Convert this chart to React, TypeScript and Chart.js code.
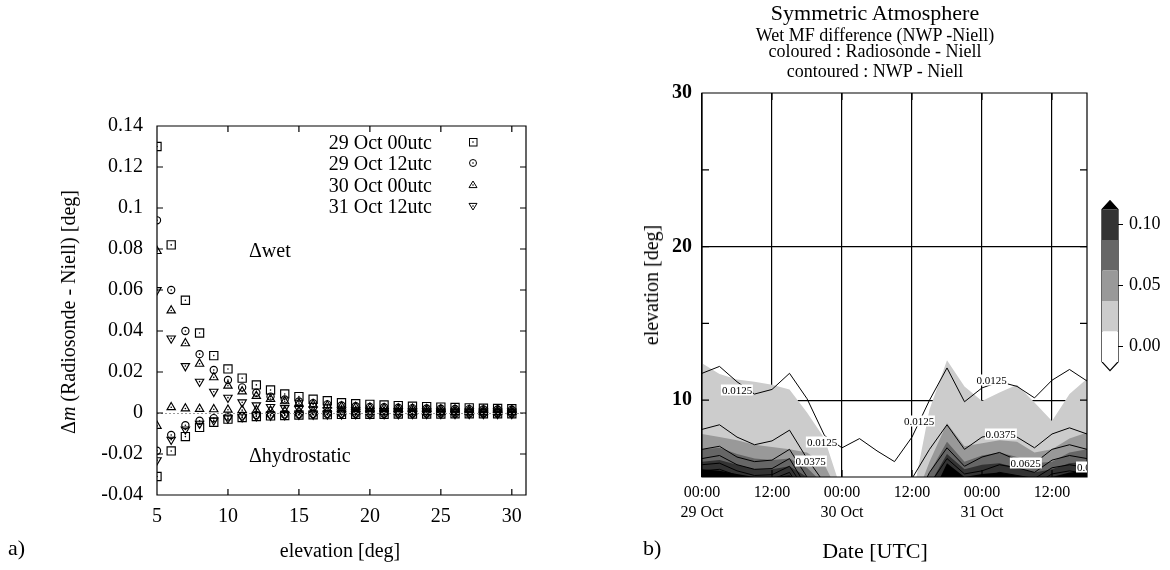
import React, { useEffect, useRef } from "react";
import { Chart, registerables } from "chart.js";
Chart.register(...registerables);

const SERIF = "'Liberation Serif', 'Times New Roman', serif";

// ---------------- Left chart (a) data ----------------
const elevations = [5, 6, 7, 8, 9, 10, 11, 12, 13, 14, 15, 16, 17, 18, 19, 20, 21, 22, 23, 24, 25, 26, 27, 28, 29, 30];
const seriesNames = ["29 Oct 00utc", "29 Oct 12utc", "30 Oct 00utc", "31 Oct 12utc"];
const wet29Oct00 = [0.130, 0.082, 0.055, 0.039, 0.028, 0.0215, 0.017, 0.0137, 0.0112, 0.0093, 0.008, 0.0067, 0.006, 0.005, 0.0045, 0.0042, 0.0039, 0.0036, 0.0033, 0.0031, 0.0029, 0.0027, 0.0025, 0.0023, 0.0022, 0.0021];
const wet29Oct12 = [0.094, 0.060, 0.040, 0.0287, 0.021, 0.0161, 0.0125, 0.0099, 0.008, 0.0066, 0.0056, 0.0048, 0.0042, 0.0037, 0.0033, 0.003, 0.0028, 0.0026, 0.0024, 0.0022, 0.0021, 0.002, 0.0019, 0.0018, 0.0017, 0.0016];
const wet30Oct00 = [0.079, 0.050, 0.034, 0.024, 0.0174, 0.0133, 0.0105, 0.0083, 0.0068, 0.0057, 0.0048, 0.0041, 0.0036, 0.0032, 0.0029, 0.0026, 0.0024, 0.0022, 0.0021, 0.0019, 0.0018, 0.0017, 0.0016, 0.0015, 0.0015, 0.0014];
const wet31Oct12 = [0.060, 0.0364, 0.0229, 0.0153, 0.0104, 0.0075, 0.0052, 0.0038, 0.003, 0.0024, 0.002, 0.0017, 0.0015, 0.0013, 0.0012, 0.0011, 0.001, 0.001, 0.0009, 0.0009, 0.0008, 0.0008, 0.0008, 0.0007, 0.0007, 0.0007];
const hyd29Oct00 = [-0.031, -0.0185, -0.0115, -0.007, -0.0045, -0.003, -0.0022, -0.0017, -0.0014, -0.0012, -0.001, -0.0009, -0.0008, -0.0007, -0.0006, -0.0006, -0.0006, -0.0005, -0.0005, -0.0005, -0.0005, -0.0004, -0.0004, -0.0004, -0.0004, -0.0004];
const hyd29Oct12 = [-0.0184, -0.0107, -0.006, -0.0038, -0.0025, -0.0018, -0.0013, -0.001, -0.0008, -0.0007, -0.0006, -0.0005, -0.0005, -0.0004, -0.0004, -0.0004, -0.0004, -0.0003, -0.0003, -0.0003, -0.0003, -0.0003, -0.0003, -0.0003, -0.0003, -0.0003];
const hyd30Oct00 = [-0.0063, 0.0028, 0.0022, 0.002, 0.0018, 0.0016, 0.0014, 0.0012, 0.0011, 0.001, 0.0009, 0.0008, 0.0008, 0.0007, 0.0007, 0.0006, 0.0006, 0.0006, 0.0006, 0.0005, 0.0005, 0.0005, 0.0005, 0.0005, 0.0005, 0.0005];
const hyd31Oct12 = [-0.023, -0.013, -0.008, -0.0052, -0.0036, -0.0026, -0.002, -0.0015, -0.0012, -0.001, -0.0008, -0.0007, -0.0006, -0.0006, -0.0005, -0.0005, -0.0005, -0.0005, -0.0004, -0.0004, -0.0004, -0.0004, -0.0004, -0.0004, -0.0004, -0.0004];
const wetSeries = [wet29Oct00, wet29Oct12, wet30Oct00, wet31Oct12];
const hydSeries = [hyd29Oct00, hyd29Oct12, hyd30Oct00, hyd31Oct12];

// ---------------- Right chart (b) data ----------------
const hours = [0, 3, 6, 9, 12, 15, 18, 21, 24, 27, 30, 33, 36, 39, 42, 45, 48, 51, 54, 57, 60, 63, 66];
const timeTickLabels: (string | string[])[] = [["00:00", "29 Oct"], "12:00", ["00:00", "30 Oct"], "12:00", ["00:00", "31 Oct"], "12:00"];
// NWP - Niell contour lines: elevation [deg] of each level vs time
const nwp0125 = [11.75, 12.2, 11.2, 10.4, 10.7, 11.75, 10.1, 7.7, 6.9, 7.5, 6.7, 6.0, 7.6, 10.0, 12.1, 9.9, 10.8, 11.2, 10.9, 10.15, 11.3, 12.0, 11.25];
const nwp0375 = [8.1, 8.4, 7.6, 7.1, 7.35, 8.05, 6.2, 4.6, 3.5, 3.5, 3.5, 3.5, 4.9, 6.8, 8.4, 6.8, 7.6, 7.8, 7.6, 6.9, 7.8, 8.2, 7.8];
const nwp0625 = [6.8, 7.0, 6.3, 6.0, 6.1, 6.8, 5.0, 3.5, 3, 3, 3, 3, 3, 5.3, 6.9, 5.7, 6.3, 6.6, 6.1, 5.9, 6.8, 7.1, 6.8];
const nwp0875 = [6.2, 6.4, 5.8, 5.5, 5.55, 6.2, 4.3, 3, 3, 3, 3, 3, 3, 4.5, 6.2, 5.2, 5.4, 5.8, 5.6, 5.3, 6.1, 6.4, 6.2];
const nwp1125 = [5.8, 5.9, 5.4, 5.1, 5.15, 5.7, 4, 3, 3, 3, 3, 3, 3, 3.5, 5.6, 4.7, 4.9, 5.3, 5.1, 4.9, 5.6, 5.8, 5.6];
const nwp1375 = [5.4, 5.5, 5.1, 4.8, 4.85, 5.3, 3.5, 3, 3, 3, 3, 3, 3, 3, 5.3, 4.3, 4.5, 5.0, 4.8, 4.5, 5.2, 5.4, 5.2];
// Radiosonde - Niell filled bands: top elevation of the region >= level
const rs0125 = [12.4, 11.7, 11.35, 11.2, 11.0, 10.7, 9.2, 7.5, 4.0, 3, 3, 3, 3.5, 9.4, 12.6, 10.9, 9.95, 10.5, 11.0, 9.85, 8.65, 10.4, 11.4];
const rs0375 = [7.8, 7.6, 7.4, 7.1, 6.95, 6.8, 6.6, 5.8, 3.5, 3, 3, 3, 3, 6.0, 8.5, 7.0, 7.2, 7.4, 7.3, 6.6, 6.8, 7.5, 7.9];
const rs0625 = [6.8, 6.9, 6.5, 6.2, 6.1, 6.2, 5.6, 4.5, 3, 3, 3, 3, 3, 5.3, 7.3, 6.0, 6.4, 6.6, 6.3, 5.9, 6.0, 6.6, 6.8];
const rs0875 = [6.0, 6.1, 5.8, 5.5, 5.5, 5.7, 5.0, 3.5, 3, 3, 3, 3, 3, 4.5, 6.5, 5.5, 5.8, 5.9, 5.6, 5.3, 5.5, 5.9, 6.0];
const rs1125 = [5.5, 5.4, 5.2, 5.0, 5.0, 5.1, 4.5, 3, 3, 3, 3, 3, 3, 3.5, 5.9, 5.0, 5.2, 5.3, 5.1, 4.9, 5.0, 5.3, 5.4];

// Colour bar
const cbLevels = [-0.0125, 0.0125, 0.0375, 0.0625, 0.0875, 0.1125];
const cbColors = ["#ffffff", "#cccccc", "#999999", "#666666", "#333333"];
const cbTicks = [0, 0.05, 0.1];

// Contour labels (text)
const contourLabels = [
  { text: "0.0125", x: 737, y: 390 },
  { text: "0.0125", x: 822, y: 441.5 },
  { text: "0.0375", x: 810.5, y: 460.5 },
  { text: "0.0125", x: 919, y: 421 },
  { text: "0.0125", x: 991.5, y: 380 },
  { text: "0.0375", x: 1000.5, y: 433.5 },
  { text: "0.0625", x: 1025.5, y: 462.5 },
];

function framePlugin(tickLen: number, zeroLine: boolean) {
  return {
    id: "frameTicks",
    afterDraw(chart: any) {
      const { ctx, chartArea: a, scales } = chart;
      const xs = scales.x, ys = scales.y;
      ctx.save();
      if (zeroLine) {
        const p = Math.round(ys.getPixelForValue(0)) + 0.5;
        ctx.strokeStyle = "#9a9a9a";
        ctx.lineWidth = 1;
        ctx.setLineDash([2, 2]);
        ctx.beginPath();
        ctx.moveTo(a.left, p);
        ctx.lineTo(a.right, p);
        ctx.stroke();
        ctx.setLineDash([]);
      }
      ctx.strokeStyle = "#000";
      ctx.lineWidth = 1.2;
      ctx.beginPath();
      ctx.rect(a.left, a.top, a.right - a.left, a.bottom - a.top);
      xs.ticks.forEach((t: any) => {
        const p = xs.getPixelForValue(t.value);
        ctx.moveTo(p, a.bottom);
        ctx.lineTo(p, a.bottom - tickLen);
        ctx.moveTo(p, a.top);
        ctx.lineTo(p, a.top + tickLen);
      });
      ys.ticks.forEach((t: any) => {
        const p = ys.getPixelForValue(t.value);
        ctx.moveTo(a.left, p);
        ctx.lineTo(a.left + tickLen, p);
        ctx.moveTo(a.right, p);
        ctx.lineTo(a.right - tickLen, p);
      });
      ctx.stroke();
      ctx.restore();
    },
  };
}

function LeftChart() {
  const ref = useRef<HTMLCanvasElement>(null);
  useEffect(() => {
    const styles = [
      { pointStyle: "rect", radius: 5.8, rotation: 0 },
      { pointStyle: "circle", radius: 3.6, rotation: 0 },
      { pointStyle: "triangle", radius: 4.8, rotation: 0 },
      { pointStyle: "triangle", radius: 4.8, rotation: 180 },
    ];
    const datasets: any[] = [];
    seriesNames.forEach((name, s) => {
      const pts = [
        ...elevations.map((e, i) => ({ x: e, y: wetSeries[s][i] })),
        ...elevations.map((e, i) => ({ x: e, y: hydSeries[s][i] })),
      ];
      datasets.push({
        label: name,
        data: pts,
        showLine: false,
        pointStyle: styles[s].pointStyle,
        pointRadius: styles[s].radius,
        pointRotation: styles[s].rotation,
        pointBorderColor: "#000",
        pointBackgroundColor: "rgba(0,0,0,0)",
        pointBorderWidth: 1.15,
      });
      datasets.push({
        label: name + " centre",
        data: pts,
        showLine: false,
        pointStyle: "circle",
        pointRadius: 0.8,
        pointBorderWidth: 0,
        pointBackgroundColor: "#000",
      });
    });
    const chart = new Chart(ref.current!, {
      type: "scatter",
      data: { datasets },
      options: {
        animation: false,
        responsive: false,
        events: [],
        layout: { padding: { left: 0, top: 126, right: 34, bottom: 35 } },
        plugins: { legend: { display: false }, tooltip: { enabled: false } },
        scales: {
          x: {
            type: "linear",
            min: 5,
            max: 31,
            afterFit: (s: any) => { s.height = 40; },
            grid: { display: false, drawTicks: false },
            border: { display: false },
            ticks: { stepSize: 5, includeBounds: false, padding: 10, color: "#000", font: { family: SERIF, size: 20 } },
          },
          y: {
            type: "linear",
            min: -0.04,
            max: 0.14,
            afterFit: (s: any) => { s.width = 157; },
            grid: { display: false, drawTicks: false },
            border: { display: false },
            ticks: {
              stepSize: 0.02,
              padding: 14,
              color: "#000",
              font: { family: SERIF, size: 20 },
              callback: (v: any) => String(+Number(v).toFixed(2)),
            },
          },
        },
      },
      plugins: [framePlugin(6, true)],
    } as any);
    return () => chart.destroy();
  }, []);
  return <canvas ref={ref} width={560} height={570} style={{ position: "absolute", left: 0, top: 0, width: 560, height: 570 }} />;
}

function RightChart() {
  const ref = useRef<HTMLCanvasElement>(null);
  useEffect(() => {
    const pts = (arr: number[]) => hours.map((h, i) => ({ x: h, y: arr[i] }));
    const fills = [
      { data: rs1125, color: "#000000", order: 2 },
      { data: rs0875, color: "#333333", order: 3 },
      { data: rs0625, color: "#666666", order: 4 },
      { data: rs0375, color: "#999999", order: 5 },
      { data: rs0125, color: "#cccccc", order: 6 },
    ];
    const lines = [nwp0125, nwp0375, nwp0625, nwp0875, nwp1125, nwp1375];
    const datasets: any[] = [
      ...fills.map((f) => ({
        data: pts(f.data),
        borderWidth: 0,
        borderColor: "rgba(0,0,0,0)",
        backgroundColor: f.color,
        fill: "start",
        pointRadius: 0,
        tension: 0,
        order: f.order,
        clip: 0,
      })),
      ...lines.map((l) => ({
        data: pts(l),
        borderWidth: 1,
        borderColor: "#000",
        fill: false,
        pointRadius: 0,
        tension: 0,
        order: 0,
        clip: 0,
      })),
    ];
    const chart = new Chart(ref.current!, {
      type: "line",
      data: { datasets },
      options: {
        animation: false,
        responsive: false,
        events: [],
        layout: { padding: { left: 0, top: 93, right: 8, bottom: 43 } },
        plugins: { legend: { display: false }, tooltip: { enabled: false } },
        scales: {
          x: {
            type: "linear",
            min: 0,
            max: 66,
            z: 1,
            afterFit: (s: any) => { s.height = 50; },
            grid: { color: "#000", lineWidth: 1.2, drawTicks: false },
            border: { display: false },
            ticks: {
              stepSize: 12,
              includeBounds: false,
              autoSkip: false,
              maxRotation: 0,
              padding: 6,
              color: "#000",
              font: { family: SERIF, size: 16, lineHeight: 1.25 },
              callback: (v: any) => timeTickLabels[Math.round(Number(v) / 12)] ?? "",
            },
          },
          y: {
            type: "linear",
            min: 5,
            max: 30,
            z: 1,
            afterFit: (s: any) => { s.width = 142; },
            grid: {
              drawTicks: false,
              lineWidth: 1.2,
              color: (c: any) => (c.tick && (c.tick.value === 10 || c.tick.value === 20) ? "#000" : "rgba(0,0,0,0)"),
            },
            border: { display: false },
            ticks: {
              stepSize: 5,
              padding: 10,
              color: "#000",
              font: { family: SERIF, size: 20, weight: "bold" },
              callback: (v: any) => (Number(v) % 10 === 0 ? String(v) : ""),
            },
          },
        },
      },
      plugins: [framePlugin(7, false)],
    } as any);
    return () => chart.destroy();
  }, []);
  return <canvas ref={ref} width={535} height={570} style={{ position: "absolute", left: 560, top: 0, width: 535, height: 570 }} />;
}

function ColorBar() {
  const ref = useRef<HTMLCanvasElement>(null);
  useEffect(() => {
    const yMin = -0.0197, yMax = 0.1197;
    const datasets: any[] = cbLevels.map((lv, i) => ({
      data: [{ x: 0, y: lv }, { x: 1, y: lv }],
      borderWidth: 0,
      borderColor: "rgba(0,0,0,0)",
      pointRadius: 0,
      fill: i > 0 ? { target: i - 1, above: cbColors[i - 1], below: cbColors[i - 1] } : false,
    }));
    const top = cbLevels[cbLevels.length - 1];
    const bottom = cbLevels[0];
    datasets.push({
      data: [{ x: 0, y: top }, { x: 0.5, y: yMax }, { x: 1, y: top }],
      borderWidth: 0,
      borderColor: "rgba(0,0,0,0)",
      pointRadius: 0,
      fill: { target: cbLevels.length - 1, above: "#000", below: "#000" },
    });
    datasets.push({
      data: [
        { x: 0, y: bottom }, { x: 0, y: top }, { x: 0.5, y: yMax }, { x: 1, y: top },
        { x: 1, y: bottom }, { x: 0.5, y: yMin }, { x: 0, y: bottom },
      ],
      borderWidth: 1.2,
      borderColor: "#000",
      pointRadius: 0,
      fill: false,
      clip: false,
    });
    const chart = new Chart(ref.current!, {
      type: "line",
      data: { datasets },
      options: {
        animation: false,
        responsive: false,
        events: [],
        layout: { padding: { left: 2, top: 200.7, right: 0, bottom: 199.3 } },
        plugins: { legend: { display: false }, tooltip: { enabled: false } },
        scales: {
          x: { type: "linear", min: 0, max: 1, display: false },
          y: {
            type: "linear",
            position: "right",
            min: yMin,
            max: yMax,
            afterFit: (s: any) => { s.width = 50; },
            afterBuildTicks: (s: any) => { s.ticks = cbTicks.map((v) => ({ value: v })); },
            grid: { drawOnChartArea: false, drawTicks: true, tickLength: 5, color: "#000", lineWidth: 1 },
            border: { display: false },
            ticks: {
              padding: 6,
              color: "#000",
              font: { family: SERIF, size: 18 },
              callback: (v: any) => Number(v).toFixed(2),
            },
          },
        },
      },
    } as any);
    return () => chart.destroy();
  }, []);
  return <canvas ref={ref} width={68} height={570} style={{ position: "absolute", left: 1100, top: 0, width: 68, height: 570 }} />;
}

const txt = (extra: React.CSSProperties): React.CSSProperties => ({
  position: "absolute",
  fontFamily: SERIF,
  color: "#000",
  whiteSpace: "nowrap",
  lineHeight: 1,
  ...extra,
});

function LegendMarker({ kind }: { kind: number }) {
  const s = 10;
  let shape: React.ReactNode = null;
  if (kind === 0) shape = <rect x={1.5} y={1.5} width={7.5} height={7.5} fill="none" stroke="#000" strokeWidth={1} />;
  if (kind === 1) shape = <circle cx={5} cy={5} r={3.5} fill="none" stroke="#000" strokeWidth={1} />;
  if (kind === 2) shape = <polygon points="5,1 9,7.6 1,7.6" fill="none" stroke="#000" strokeWidth={1} />;
  if (kind === 3) shape = <polygon points="5,9 9,2.4 1,2.4" fill="none" stroke="#000" strokeWidth={1} />;
  return (
    <svg width={s} height={s} style={{ position: "absolute", left: -5, top: -5 }}>
      {shape}
      <circle cx={5} cy={5} r={0.8} fill="#000" />
    </svg>
  );
}

export default function App() {
  const legendY = [141.7, 163.2, 184.6, 205.6];
  return (
    <div style={{ position: "absolute", left: 0, top: 0, width: 1170, height: 570, background: "#fff", overflow: "hidden" }}>
      <LeftChart />
      <RightChart />
      <ColorBar />

      {/* Left chart texts */}
      <div style={txt({ left: 68, top: 312, fontSize: 20, transform: "translate(-50%,-50%) rotate(-90deg)" })}>
        Δ<i>m</i> (Radiosonde - Niell) [deg]
      </div>
      <div style={txt({ left: 340, top: 550, fontSize: 20, transform: "translate(-50%,-50%)" })}>elevation [deg]</div>
      <div style={txt({ left: 249, top: 250, fontSize: 20, transform: "translate(0,-50%)" })}>Δwet</div>
      <div style={txt({ left: 249, top: 455, fontSize: 20, transform: "translate(0,-50%)" })}>Δhydrostatic</div>
      {seriesNames.map((n, i) => (
        <React.Fragment key={n}>
          <div style={txt({ left: 432, top: legendY[i], fontSize: 20, transform: "translate(-100%,-50%)" })}>{n}</div>
          <div style={{ position: "absolute", left: 472.7, top: legendY[i] }}>
            <LegendMarker kind={i} />
          </div>
        </React.Fragment>
      ))}
      <div style={txt({ left: 8, top: 548, fontSize: 22, transform: "translate(0,-50%)" })}>a)</div>
      <div style={txt({ left: 643, top: 548, fontSize: 22, transform: "translate(0,-50%)" })}>b)</div>

      {/* Right chart texts */}
      <div style={txt({ left: 875, top: 13, fontSize: 22, transform: "translate(-50%,-50%)" })}>Symmetric Atmosphere</div>
      <div style={txt({ left: 875, top: 34.5, fontSize: 18, transform: "translate(-50%,-50%)" })}>Wet MF difference (NWP -Niell)</div>
      <div style={txt({ left: 875, top: 51, fontSize: 18, transform: "translate(-50%,-50%)" })}>coloured : Radiosonde - Niell</div>
      <div style={txt({ left: 875, top: 71, fontSize: 18, transform: "translate(-50%,-50%)" })}>contoured : NWP - Niell</div>
      <div style={txt({ left: 651, top: 285, fontSize: 20, transform: "translate(-50%,-50%) rotate(-90deg)" })}>elevation [deg]</div>
      <div style={txt({ left: 875, top: 551, fontSize: 22, transform: "translate(-50%,-50%)" })}>Date [UTC]</div>
      {contourLabels.map((c, i) => (
        <div key={i} style={txt({ left: c.x, top: c.y, fontSize: 11, background: "#fff", padding: "0 1px", transform: "translate(-50%,-50%)" })}>
          {c.text}
        </div>
      ))}
      <div style={{ position: "absolute", left: 1075, top: 460, width: 12, height: 14, overflow: "hidden" }}>
        <div style={txt({ left: 1, top: 7, fontSize: 11, background: "#fff", padding: "0 1px", transform: "translate(0,-50%)" })}>0.0</div>
      </div>
    </div>
  );
}
